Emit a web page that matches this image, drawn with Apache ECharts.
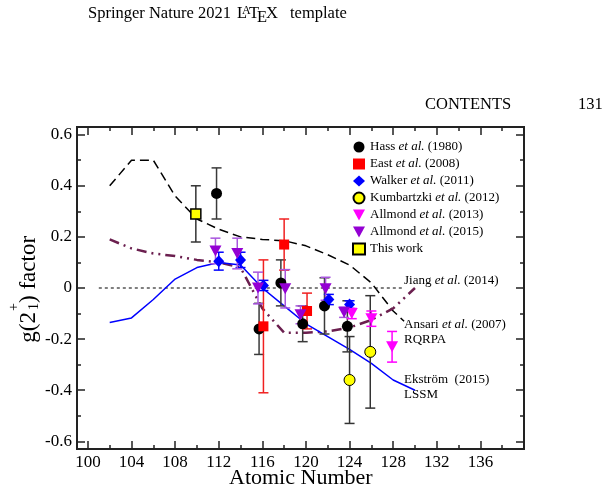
<!DOCTYPE html>
<html><head><meta charset="utf-8">
<script src="https://cdn.jsdelivr.net/npm/echarts@6/dist/echarts.min.js"></script>
<style>html,body{margin:0;padding:0;background:#fff}#c{width:612px;height:494px}</style>
</head><body><div id="c"></div>
<script>
// ---- axis ticks ----
const xMajor = [100,104,108,112,116,120,124,128,132,136];
const xMinor = [100,102,104,106,108,110,112,114,116,118,120,122,124,126,128,130,132,134,136,138,140];
const yMajor = [-0.6,-0.4,-0.2,0,0.2,0.4,0.6];
const yMinor = [-0.5,-0.3,-0.1,0.1,0.3,0.5];

// ---- theory curves ----
const ansariZ = [102,104,106,108,110,112,114,116,118,120,122,124,126,128,129];
const ansariG = [0.40,0.50,0.50,0.36,0.27,0.23,0.20,0.19,0.185,0.165,0.13,0.09,0.02,-0.09,-0.13];
const ekstromZ = [102,104,106,108,110,112,114,116,118,120,122,124,126,128,130];
const ekstromG = [-0.135,-0.117,-0.045,0.035,0.08,0.10,0.09,0.0,-0.07,-0.14,-0.19,-0.24,-0.295,-0.36,-0.40];
const jiangZ = [102,104,106,108,110,112,114,116,118,120,122,124,126,128,130];
const jiangG = [0.19,0.155,0.135,0.125,0.11,0.10,0.08,-0.08,-0.175,-0.175,-0.17,-0.155,-0.125,-0.08,0.0];
const zeroZ = [101,129];
const zeroG = [0,0];

// ---- experimental data ----
const hassZ = [111.8,115.7,117.7,119.7,121.7,123.8];
const hassG = [0.37,-0.16,0.02,-0.14,-0.07,-0.15];
const hassErr = [0.10,0.10,0.09,0.07,0.11,0.10];
const eastZ = [116.1,118.0,120.1];
const eastG = [-0.15,0.17,-0.09];
const eastErr = [0.26,0.10,0.07];
const walkerZ = [112,114,116.1,122.1,124.0];
const walkerG = [0.105,0.11,0.01,-0.045,-0.065];
const walkerErr = [0.035,0.03,0.02,0.02,0.015];
const kumZ = [124,125.9];
const kumG = [-0.36,-0.25];
const kumErr = [0.17,0.22];
const all13Z = [124.2,126,127.9];
const all13G = [-0.10,-0.12,-0.23];
const all13Err = [0.02,0.03,0.06];
const all15Z = [111.7,113.7,115.6,118.1,119.5,121.8,123.5];
const all15G = [0.145,0.135,0.0,-0.003,-0.105,-0.003,-0.095];
const all15Err = [0.05,0.06,0.062,0.075,0.035,0.045,0.02];
const thisZ = [109.9];
const thisG = [0.29];
const thisErr = [0.11];

const names = ['Hass et al. (1980)','East et al. (2008)','Walker et al. (2011)','Kumbartzki et al. (2012)','Allmond et al. (2013)','Allmond et al. (2015)','This work'];

const FONT = 'Liberation Serif';
const zip = (a,b) => a.map((v,i)=>[v,b[i]]);
const triDown = 'path://M0,0L10,0L5,9Z';

function errSeries(id, zs, gs, es, color, cap, z) {
  return {
    type:'custom', name:id, xAxisIndex:0, yAxisIndex:0, z:z, silent:true, clip:false,
    data: zs.map((x,i)=>[x, gs[i]-es[i], gs[i]+es[i]]),
    encode:{x:0, y:[1,2]},
    renderItem:(params, api)=>{
      const lo = api.coord([api.value(0), api.value(1)]);
      const hi = api.coord([api.value(0), api.value(2)]);
      const st = {stroke:color, lineWidth:1.5};
      return {type:'group', children:[
        {type:'line', shape:{x1:lo[0],y1:lo[1],x2:hi[0],y2:hi[1]}, style:st},
        {type:'line', shape:{x1:lo[0]-cap,y1:lo[1],x2:lo[0]+cap,y2:lo[1]}, style:st},
        {type:'line', shape:{x1:hi[0]-cap,y1:hi[1],x2:hi[0]+cap,y2:hi[1]}, style:st}
      ]};
    }
  };
}
function pts(name, zs, gs, symbol, size, color, border, z) {
  return {
    type:'scatter', name:name, xAxisIndex:0, yAxisIndex:0, z:z,
    data: zip(zs, gs), symbol:symbol, symbolSize:size,
    itemStyle: Object.assign({color:color, opacity:1}, border ? {borderColor:'#000', borderWidth:border} : {}),
    emphasis:{disabled:true}
  };
}
function curve(name, zs, gs, color, width, type) {
  return {type:'line', name:name, xAxisIndex:0, yAxisIndex:0, data:zip(zs,gs), symbol:'none',
    lineStyle:{color:color, width:width, type:type}, z:2, silent:true};
}

const rich = {
  n:{fontFamily:FONT, fontSize:13, color:'#000'},
  i:{fontFamily:FONT, fontSize:13, color:'#000', fontStyle:'italic'}
};
const fmt = name => {
  const m = name.match(/^(.*?)(et al\.)(.*)$/);
  return m ? `{n|${m[1]}}{i|${m[2]}}{n|${m[3]}}` : `{n|${name}}`;
};

const axisLineStyle = {color:'#222', width:2};
const tickStyle = {color:'#222', width:1.5};
function xAx(pos, vals, len, labels) {
  return {type:'value', min:99, max:140, position:pos,
    axisLine:{show:true, onZero:false, lineStyle:axisLineStyle},
    axisTick:{show:true, inside:true, length:len, customValues:vals, lineStyle:tickStyle},
    axisLabel:{show:labels, customValues:vals, fontFamily:FONT, fontSize:17, color:'#000', margin:5},
    splitLine:{show:false}};
}
function yAx(pos, vals, len, labels) {
  return {type:'value', min:-0.63, max:0.63, position:pos,
    axisLine:{show:true, onZero:false, lineStyle:axisLineStyle},
    axisTick:{show:true, inside:true, length:len, customValues:vals, lineStyle:tickStyle},
    axisLabel:{show:labels, customValues:vals, fontFamily:FONT, fontSize:17, color:'#000', margin:5,
      formatter: v => Math.abs(v) < 1e-9 ? '0' : v.toFixed(1)},
    splitLine:{show:false}};
}

const HF = '16.5px "Liberation Serif"';
const chart = echarts.init(document.getElementById('c'), null, {renderer:'canvas'});
chart.setOption({
  animation:false,
  backgroundColor:'#fff',
  grid:{left:77, right:88, top:127, bottom:45, containLabel:false, outerBoundsMode:'none'},
  xAxis:[xAx('bottom', xMajor, 8, true), xAx('bottom', xMinor, 4, false), xAx('top', xMajor, 8, false), xAx('top', xMinor, 4, false)],
  yAxis:[yAx('left', yMajor, 8, true), yAx('left', yMinor, 4, false), yAx('right', yMajor, 8, false), yAx('right', yMinor, 4, false)],
  legend:{
    data: names, orient:'vertical', left:347, top:135, itemWidth:12, itemHeight:11, itemGap:3, itemTextGap:10,
    formatter: fmt, textStyle:{rich:rich, lineHeight:14}, selectedMode:false
  },
  series:[
    curve('zero', zeroZ, zeroG, '#000', 1, [3,3]),
    curve('Ansari', ansariZ, ansariG, '#000', 1.5, [9,5]),
    curve('Jiang', jiangZ, jiangG, '#6b1f4f', 2.5, [10,5,2,5,2,5]),
    curve('Ekstrom', ekstromZ, ekstromG, '#0000ff', 1.5, 'solid'),
    errSeries('e_hass', hassZ, hassG, hassErr, '#3a3a3a', 5, 5),
    errSeries('e_east', eastZ, eastG, eastErr, '#f02020', 5, 5),
    errSeries('e_walker', walkerZ, walkerG, walkerErr, '#0000ff', 5, 5),
    errSeries('e_kum', kumZ, kumG, kumErr, '#333', 5, 5),
    errSeries('e_all13', all13Z, all13G, all13Err, '#ff00ff', 5, 5),
    errSeries('e_all15', all15Z, all15G, all15Err, '#a855dd', 5, 5),
    errSeries('e_this', thisZ, thisG, thisErr, '#333', 5, 5),
    pts(names[0], hassZ, hassG, 'circle', 11, '#000', 0, 10),
    pts(names[1], eastZ, eastG, 'rect', 10, '#ff0000', 0, 11),
    pts(names[2], walkerZ, walkerG, 'diamond', [11,12], '#0000ff', 0, 12),
    pts(names[3], kumZ, kumG, 'circle', 11, '#ffff00', 1, 13),
    pts(names[4], all13Z, all13G, triDown, [12,11], '#ff00ff', 0, 14),
    pts(names[5], all15Z, all15G, triDown, [12,11], '#9400d3', 0, 15),
    pts(names[6], thisZ, thisG, 'rect', 10, '#ffff00', 1.5, 16)
  ],
  graphic:[
    // header
    {type:'text', left:88, top:5, style:{text:'Springer Nature 2021', font:HF, fill:'#000'}},
    {type:'text', left:237, top:5, style:{text:'L', font:HF, fill:'#000'}},
    {type:'text', left:242, top:5, style:{text:'A', font:'12px "Liberation Serif"', fill:'#000'}},
    {type:'text', left:249, top:5, style:{text:'T', font:HF, fill:'#000'}},
    {type:'text', left:257, top:9, style:{text:'E', font:HF, fill:'#000'}},
    {type:'text', left:266, top:5, style:{text:'X', font:HF, fill:'#000'}},
    {type:'text', left:290, top:5, style:{text:'template', font:HF, fill:'#000'}},
    {type:'text', left:425, top:96, style:{text:'CONTENTS', font:HF, fill:'#000'}},
    {type:'text', left:578, top:96, style:{text:'131', font:HF, fill:'#000'}},
    // curve annotations
    {type:'text', left:404, top:274, style:{text:'{n|Jiang }{i|et al.}{n| (2014)}', rich:rich}},
    {type:'text', left:404, top:317, style:{text:'{n|Ansari }{i|et al.}{n| (2007)}\n{n|RQRPA}', rich:rich, lineHeight:15}},
    {type:'text', left:404, top:372, style:{text:'{n|Ekström  (2015)}\n{n|LSSM}', rich:rich, lineHeight:15}},
    // axis titles
    {type:'text', left:229, top:467, style:{text:'Atomic Number', font:'22px "Liberation Serif"', fill:'#000'}},
    {type:'group', x:29, y:297, rotation:Math.PI/2, children:[
      {type:'text', x:-15, y:0, style:{text:'g(2', font:'23px "Liberation Serif"', fill:'#000', textAlign:'right', textVerticalAlign:'middle'}},
      {type:'text', x:-14, y:-15, style:{text:'+', font:'14px "Liberation Serif"', fill:'#000', textAlign:'left', textVerticalAlign:'middle'}},
      {type:'text', x:-13, y:5, style:{text:'1', font:'14px "Liberation Serif"', fill:'#000', textAlign:'left', textVerticalAlign:'middle'}},
      {type:'text', x:-6, y:0, style:{text:') factor', font:'23px "Liberation Serif"', fill:'#000', textAlign:'left', textVerticalAlign:'middle'}}
    ]}
  ]
});
</script></body></html>
